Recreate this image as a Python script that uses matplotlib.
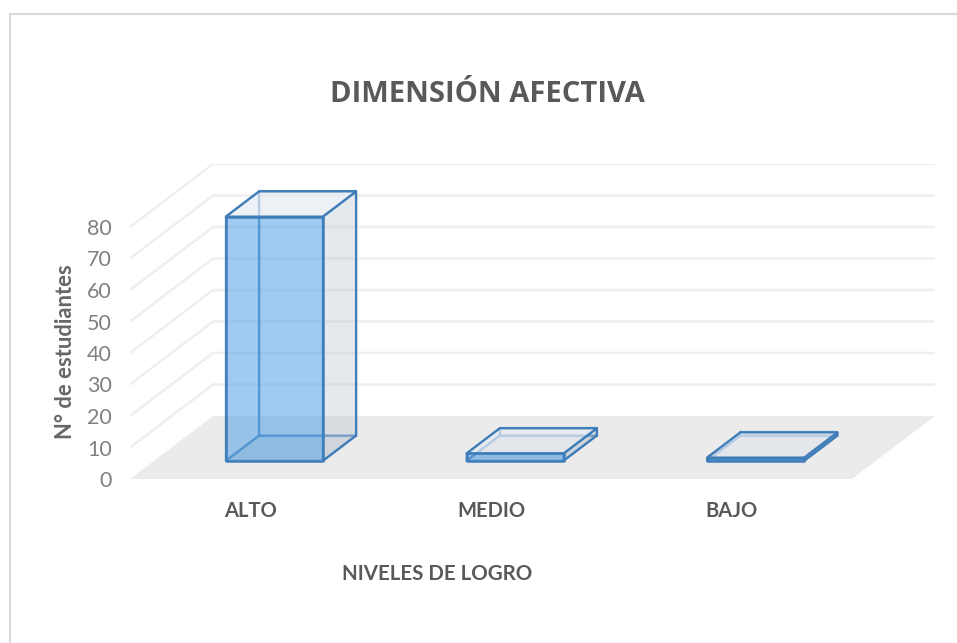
import matplotlib
matplotlib.use("Agg")
import matplotlib.pyplot as plt
from matplotlib.colors import to_rgba
from matplotlib.lines import Line2D
from matplotlib.patches import Polygon

categorias = ["ALTO", "MEDIO", "BAJO"]
valores = [77.5, 2.3, 1]
ticks_y = [0, 10, 20, 30, 40, 50, 60, 70, 80]

GRIS = "#595959"
AZUL = "#3E7DB8"
# 3d shear: how far the back of the floor sits from the front, in data units
DX = 0.345
DY = 20
ANCHO = 0.403
D0, D1 = 0.29, 0.69

plt.rcParams["font.family"] = ["Lato", "DejaVu Sans"]


def proy(x, v, d):
    return (x + d * DX, v + d * DY)


def cara(ax, pts, fc, alpha, z, lw=1.6, ec=AZUL, ea=1.0):
    ax.add_patch(Polygon(pts, closed=True, facecolor=to_rgba(fc, alpha),
                         edgecolor=to_rgba(ec, ea), linewidth=lw,
                         joinstyle="round", zorder=z))


def barra(ax, xc, v):
    x0, x1 = xc - ANCHO / 2, xc + ANCHO / 2
    # back, bottom and left first so they show through the front
    cara(ax, [proy(x0, 0, D1), proy(x1, 0, D1), proy(x1, v, D1), proy(x0, v, D1)],
         "#5B9BD5", 0.0, 3, ea=0.75)
    cara(ax, [proy(x0, 0, D0), proy(x1, 0, D0), proy(x1, 0, D1), proy(x0, 0, D1)],
         "#ACB4BC", 0.22, 3, ea=0.75)
    cara(ax, [proy(x0, 0, D0), proy(x0, 0, D1), proy(x0, v, D1), proy(x0, v, D0)],
         "#5B9BD5", 0.0, 3, ea=0.75)
    cara(ax, [proy(x1, 0, D0), proy(x1, 0, D1), proy(x1, v, D1), proy(x1, v, D0)],
         "#BBC8D4", 0.40, 4)
    cara(ax, [proy(x0, v, D0), proy(x1, v, D0), proy(x1, v, D1), proy(x0, v, D1)],
         "#E6EBF1", 0.70, 4)
    cara(ax, [proy(x0, 0, D0), proy(x1, 0, D0), proy(x1, v, D0), proy(x0, v, D0)],
         "#5BA4E5", 0.58, 5, lw=1.8)


fig = plt.figure(figsize=(9.57, 6.43), dpi=100)
# axes box runs from the floor's front-left corner to the top of the back wall
ax = fig.add_axes([130 / 957, 1 - 479 / 643, 805 / 957, 315 / 643])
ax.set_xlim(-0.5, 2.5 + DX)
ax.set_ylim(0, 80 + DY)
for s in ax.spines.values():
    s.set_visible(False)
ax.patch.set_visible(False)

# floor
ax.add_patch(Polygon([proy(-0.5, 0, 0), proy(2.5, 0, 0), proy(2.5, 0, 1), proy(-0.5, 0, 1)],
                     closed=True, facecolor="#EBEBEB", edgecolor="none", zorder=1))

# gridlines on left and back walls
for t in ticks_y[1:]:
    xs, ys = zip(proy(-0.5, t, 0), proy(-0.5, t, 1), proy(2.5, t, 1))
    ax.plot(xs, ys, color="#EFEFEF", lw=1.8, zorder=2, solid_joinstyle="round")

for i, v in enumerate(valores):
    barra(ax, i, v)

ax.set_xticks(range(len(categorias)))
ax.set_xticklabels(categorias, fontsize=14.5, fontweight="bold", color=GRIS)
ax.set_yticks(ticks_y)
ax.set_yticklabels([str(t) for t in ticks_y], fontsize=15.5, color="#808080")
ax.tick_params(axis="x", length=0, pad=16)
ax.tick_params(axis="y", length=0, pad=13)

ax.set_xlabel("NIVELES DE LOGRO", fontsize=14.75, fontweight="bold", color=GRIS)
ax.xaxis.set_label_coords((437 - 130) / 805, -(574 - 479) / 315, transform=ax.transAxes)
ax.xaxis.label.set_verticalalignment("center")
ax.set_ylabel("N° de estudiantes", fontsize=15.8, fontweight="bold", color="#666666")
ax.yaxis.set_label_coords((65 - 130) / 805, (479 - 352) / 315, transform=ax.transAxes)
ax.yaxis.label.set_verticalalignment("center")

fig.text(487 / 957, 1 - 94 / 643, "DIMENSIÓN AFECTIVA", fontsize=21, fontweight="bold",
         family=["Open Sans", "DejaVu Sans"], color=GRIS, ha="center", va="center")

# chart frame, only top and left show in the crop
fig.add_artist(Line2D([10 / 957, 10 / 957, 1], [0, 1 - 14 / 643, 1 - 14 / 643],
                      color="#D9D9D9", lw=1.5))

fig.savefig("out.png", dpi=100)
